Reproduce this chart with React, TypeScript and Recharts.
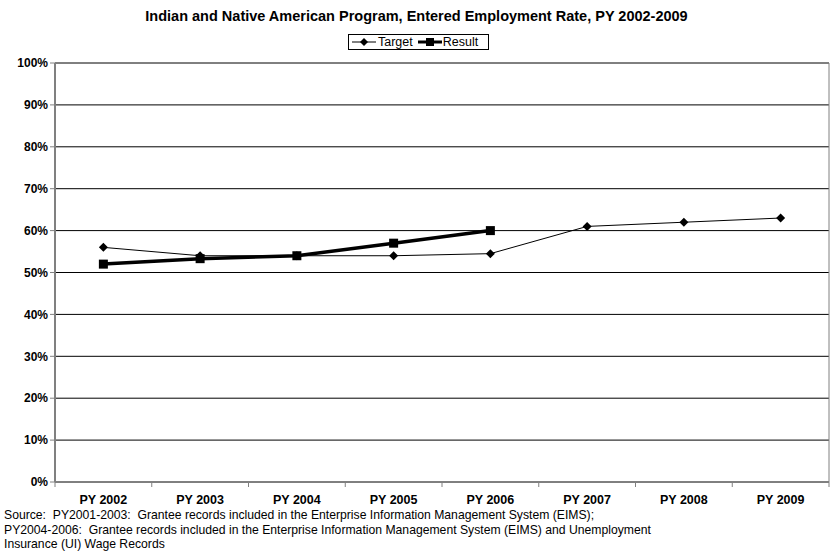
import React from 'react';
import { LineChart, Line, XAxis, YAxis, CartesianGrid } from 'recharts';

const years = ['PY 2002', 'PY 2003', 'PY 2004', 'PY 2005', 'PY 2006', 'PY 2007', 'PY 2008', 'PY 2009'];
const target = [0.56, 0.54, 0.54, 0.54, 0.545, 0.61, 0.62, 0.63];
const result = [0.52, 0.533, 0.54, 0.57, 0.6, null, null, null];
const yTicks = [0, 0.1, 0.2, 0.3, 0.4, 0.5, 0.6, 0.7, 0.8, 0.9, 1];

const sourceLines = [
  'Source:  PY2001-2003:  Grantee records included in the Enterprise Information Management System (EIMS);',
  'PY2004-2006:  Grantee records included in the Enterprise Information Management System (EIMS) and Unemployment',
  'Insurance (UI) Wage Records',
];

const data = years.map((year, i) => ({ year, target: target[i], result: result[i] }));

const FONT = '"Liberation Sans", Arial, sans-serif';
const W = 833;
const H = 554;
const PLOT_LEFT = 55;
const PLOT_RIGHT = 829;
const PLOT_TOP = 63;
const PLOT_BOTTOM = 482;
const STEP = (PLOT_RIGHT - PLOT_LEFT) / years.length;

const Diamond = (props: any) => {
  const { cx, cy } = props;
  if (cx == null || cy == null) return null;
  const r = 4.5;
  return (
    <polygon
      points={`${cx},${cy - r} ${cx + r},${cy} ${cx},${cy + r} ${cx - r},${cy}`}
      fill="#000"
    />
  );
};

const Square = (props: any) => {
  const { cx, cy, value } = props;
  if (cx == null || cy == null || value == null) return null;
  return <rect x={cx - 4.5} y={cy - 4.5} width={9} height={9} fill="#000" />;
};

// category label plus tick marks on the band edges
const XTick = (props: any) => {
  const { x, y, payload, index } = props;
  const left = x - STEP / 2;
  return (
    <g>
      <line x1={left} y1={y - 8} x2={left} y2={y - 3} stroke="#808080" />
      {index === years.length - 1 && (
        <line x1={left + STEP} y1={y - 8} x2={left + STEP} y2={y - 3} stroke="#808080" />
      )}
      <text
        x={x}
        y={y + 14}
        textAnchor="middle"
        fontFamily={FONT}
        fontSize={12.5}
        fontWeight="bold"
        fill="#000"
      >
        {payload.value}
      </text>
    </g>
  );
};

const LegendBox = () => (
  <div
    style={{
      position: 'absolute',
      left: 348,
      top: 34,
      width: 141,
      height: 16,
      boxSizing: 'border-box',
      display: 'flex',
      alignItems: 'center',
      border: '1px solid #000',
      background: '#fff',
      paddingLeft: 3,
      fontFamily: FONT,
      fontSize: 12.5,
      lineHeight: '14px',
    }}
  >
    <svg width={24} height={10}>
      <line x1={0} y1={5} x2={24} y2={5} stroke="#000" strokeWidth={1} />
      <polygon points="12,1 16,5 12,9 8,5" fill="#000" />
    </svg>
    <span style={{ marginLeft: 2, marginRight: 5 }}>Target</span>
    <svg width={24} height={10}>
      <line x1={0} y1={5} x2={24} y2={5} stroke="#000" strokeWidth={3} />
      <rect x={8} y={1} width={8} height={8} fill="#000" />
    </svg>
    <span style={{ marginLeft: 1 }}>Result</span>
  </div>
);

export default function App() {
  return (
    <div style={{ position: 'absolute', left: 0, top: 0, width: W, height: H, background: '#fff' }}>
      <div
        style={{
          position: 'absolute',
          top: 8,
          left: 0,
          width: W,
          textAlign: 'center',
          fontFamily: FONT,
          fontSize: 14.5,
          fontWeight: 'bold',
        }}
      >
        Indian and Native American Program, Entered Employment Rate, PY 2002-2009
      </div>
      <LineChart
        width={W}
        height={H}
        data={data}
        margin={{ top: PLOT_TOP, right: W - PLOT_RIGHT, bottom: 0, left: 0 }}
      >
        <CartesianGrid vertical={false} stroke="#000" />
        {/* right edge of the plot frame */}
        <CartesianGrid horizontal={false} verticalPoints={[PLOT_RIGHT]} stroke="#808080" />
        <XAxis
          dataKey="year"
          height={H - PLOT_BOTTOM}
          padding={{ left: STEP / 2, right: STEP / 2 }}
          axisLine={{ stroke: '#808080' }}
          tickLine={false}
          tick={<XTick />}
          interval={0}
        />
        <YAxis
          width={PLOT_LEFT}
          domain={[0, 1]}
          ticks={yTicks}
          tickFormatter={(v: number) => `${Math.round(v * 100)}%`}
          axisLine={{ stroke: '#808080', strokeWidth: 2 }}
          tickLine={{ stroke: '#808080' }}
          tickSize={5}
          tick={{ fontFamily: FONT, fontSize: 12, fontWeight: 'bold', fill: '#000' }}
        />
        <Line
          dataKey="target"
          name="Target"
          stroke="#000"
          strokeWidth={1}
          dot={<Diamond />}
          activeDot={false}
          isAnimationActive={false}
        />
        <Line
          dataKey="result"
          name="Result"
          stroke="#000"
          strokeWidth={3.5}
          dot={<Square />}
          activeDot={false}
          connectNulls={false}
          isAnimationActive={false}
        />
      </LineChart>
      <LegendBox />
      <div
        style={{
          position: 'absolute',
          left: 4,
          top: 508,
          fontFamily: FONT,
          fontSize: 12.2,
          lineHeight: '14.5px',
          color: '#000',
        }}
      >
        {sourceLines.map((line) => (
          <div key={line} style={{ whiteSpace: 'pre' }}>
            {line}
          </div>
        ))}
      </div>
    </div>
  );
}
